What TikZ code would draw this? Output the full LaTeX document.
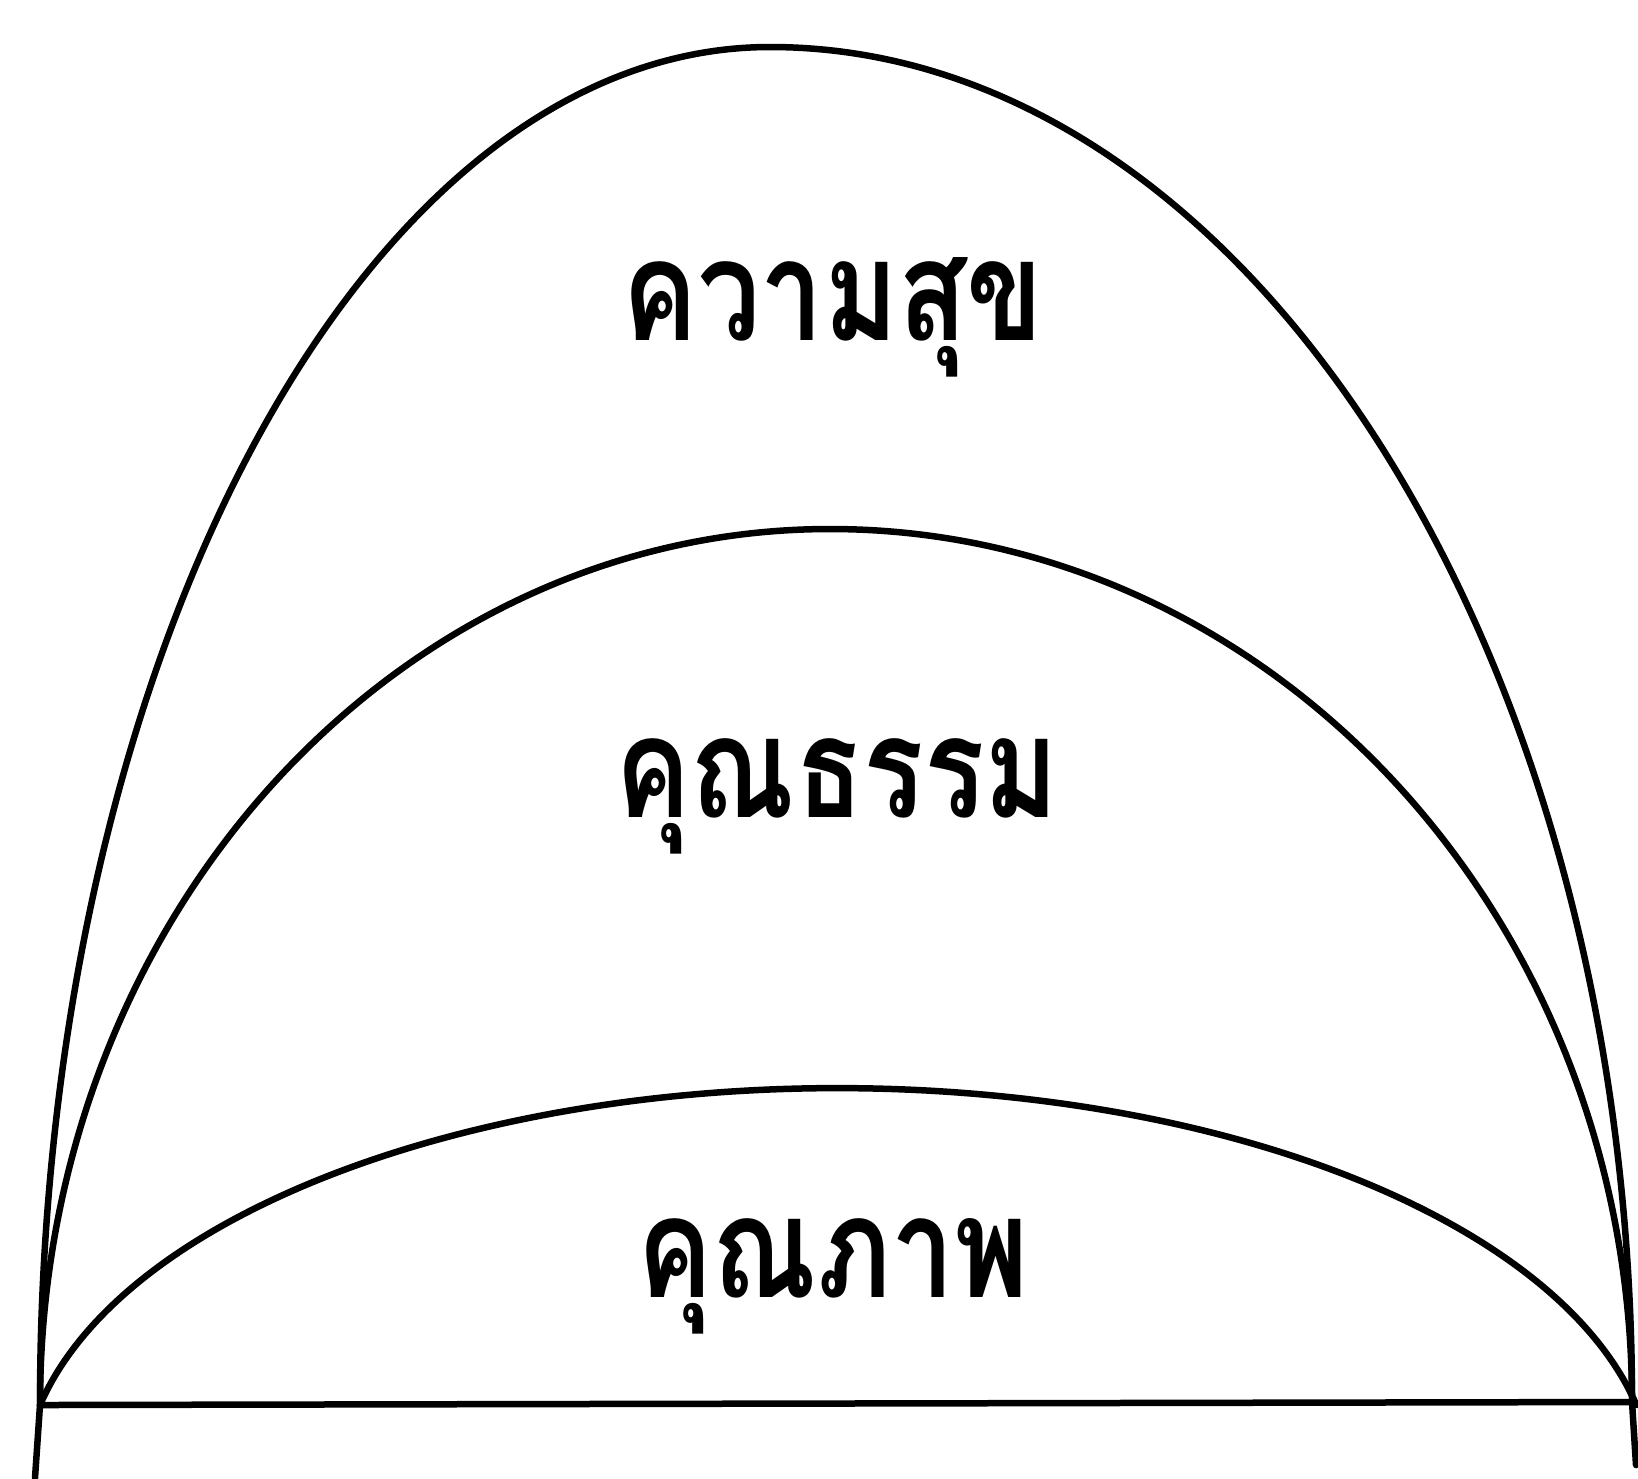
\documentclass[tikz,border=0pt]{standalone}
\usepackage{fontspec}
\newfontfamily\thaifont[Script=Thai,FakeStretch=0.8]{Loma}
\usetikzlibrary{positioning}

\begin{document}
\begin{tikzpicture}[
  x=0.1mm, y=-0.1mm,
  arch/.style={line width=0.65mm, line cap=round, line join=round},
  word/.style={font=\thaifont\bfseries\fontsize{40}{48}\selectfont, anchor=base, inner sep=0pt}
]
 \useasboundingbox (0,0) rectangle (1638,1478);
 \coordinate (L) at (40,1405);
 \coordinate (R) at (1632,1402);
 % outer, middle and inner arch
 \draw[arch] (L) arc[start angle=180, end angle=270, x radius=730, y radius=1358]
                 arc[start angle=270, end angle=360, x radius=862, y radius=1355];
 \draw[arch] (L) arc[start angle=180, end angle=270, x radius=790, y radius=876]
                 arc[start angle=270, end angle=360, x radius=802, y radius=873];
 \draw[arch] (L) arc[start angle=192, end angle=348, x radius=816, y radius=400];
 \draw[arch] (L) -- (R);
 \draw[arch] (L) -- (35,1478);
 \draw[arch] (R) -- (1636,1465);
 \node[word] (happy) at (833,340) {ความสุข};
 \node[word] (virtue) at (837,817) {คุณธรรม};
 \node[word] (quality) at (833,1297) {คุณภาพ};
\end{tikzpicture}
\end{document}
